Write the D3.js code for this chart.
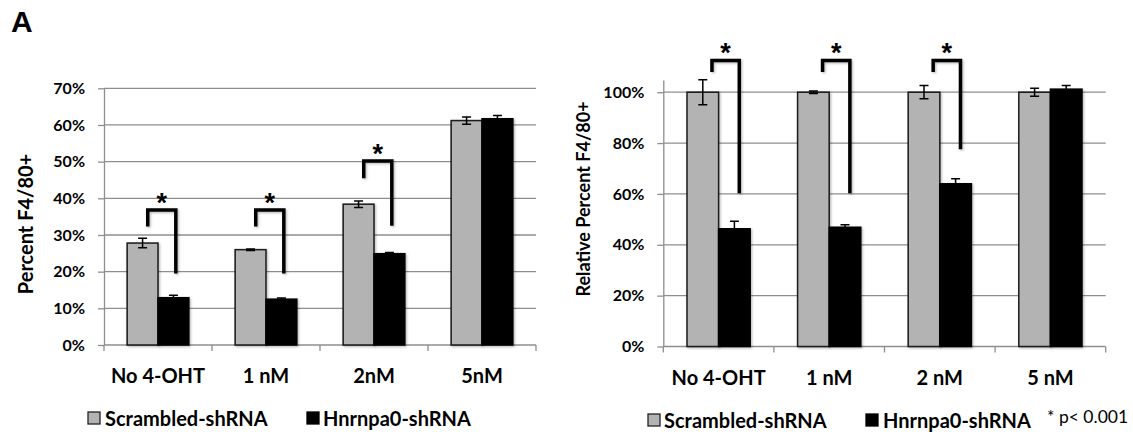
<!DOCTYPE html>
<html><head><meta charset="utf-8">
<script src="https://cdn.jsdelivr.net/npm/d3@7"></script>
<style>body{margin:0;background:#fff} svg{display:block}</style>
</head><body><svg id="c" width="1133" height="434"></svg>
<script>
// ---------- data ----------
const seriesNames = ["Scrambled-shRNA", "Hnrnpa0-shRNA"];

const leftCategories = ["No 4-OHT", "1 nM", "2nM", "5nM"];
const leftScrambled    = [0.278, 0.260, 0.384, 0.612];
const leftScrambledErr = [0.013, 0.002, 0.009, 0.010];
const leftHnrnpa0      = [0.129, 0.125, 0.249, 0.617];
const leftHnrnpa0Err   = [0.007, 0.003, 0.003, 0.009];
const leftTicks = [0, 0.1, 0.2, 0.3, 0.4, 0.5, 0.6, 0.7];
const leftBracketCats   = ["No 4-OHT", "1 nM", "2nM"];
const leftBracketTop    = [0.368, 0.368, 0.502];
const leftBracketLeft   = [0.323, 0.323, 0.455];
const leftBracketRight  = [0.195, 0.195, 0.325];

const rightCategories = ["No 4-OHT", "1 nM", "2 nM", "5 nM"];
const rightScrambled    = [1.000, 1.000, 1.000, 1.000];
const rightScrambledErr = [0.049, 0.005, 0.026, 0.016];
const rightHnrnpa0      = [0.463, 0.469, 0.640, 1.012];
const rightHnrnpa0Err   = [0.030, 0.010, 0.020, 0.014];
const rightTicks = [0, 0.2, 0.4, 0.6, 0.8, 1.0];
const rightBracketCats  = ["No 4-OHT", "1 nM", "2 nM"];
const rightBracketTop   = [1.125, 1.125, 1.125];
const rightBracketLeft  = [1.079, 1.079, 1.079];
const rightBracketRight = [0.603, 0.603, 0.776];

const pValueNote = "* p< 0.001";
const panelLabel = "A";

// ---------- drawing ----------
const svg = d3.select("#c");
const FONT = "Lato, 'Open Sans', sans-serif";
const STARFONT = "'Liberation Sans', Arial, sans-serif";
const GRID = "#8e8e8e";
const GRAY = "#b3b3b3";

const defs = svg.append("defs");
const f = defs.append("filter").attr("id", "sh").attr("x", "-20%").attr("y", "-20%").attr("width", "150%").attr("height", "150%");
f.append("feDropShadow").attr("dx", 1.2).attr("dy", 1.2).attr("stdDeviation", 0.9)
  .attr("flood-color", "#000").attr("flood-opacity", 0.28);

function drawPanel(cfg) {
  const g = svg.append("g");
  const x = d3.scaleBand().domain(cfg.categories).range([cfg.left, cfg.right]).paddingInner(0).paddingOuter(0);
  const bw = x.bandwidth();
  const xs = d3.scaleBand().domain(seriesNames).range([0, bw]).paddingInner(0).paddingOuter(0.75);
  const y = d3.scaleLinear().domain([0, cfg.yMax]).range([cfg.bottom, cfg.top]);

  // gridlines
  g.append("g").selectAll("line").data(cfg.ticks.filter(d => d > 0)).join("line")
    .attr("x1", cfg.left).attr("x2", cfg.right)
    .attr("y1", d => y(d)).attr("y2", d => y(d))
    .attr("stroke", GRID).attr("stroke-width", 1.3);

  // y axis
  const ya = g.append("g").attr("transform", `translate(${cfg.left},0)`)
    .call(d3.axisLeft(y).tickValues(cfg.ticks).tickSize(6).tickSizeOuter(0).tickPadding(13)
      .tickFormat(d3.format(".0%")));
  ya.select(".domain").attr("stroke", GRID).attr("stroke-width", 1.3);
  ya.selectAll(".tick line").attr("stroke", GRID).attr("stroke-width", 1.3);
  ya.selectAll(".tick text").attr("font-family", FONT).attr("font-weight", 700)
    .attr("font-size", 16).attr("fill", "#000");

  // x axis line + boundary ticks
  g.append("line").attr("x1", cfg.left).attr("x2", cfg.right)
    .attr("y1", y(0)).attr("y2", y(0)).attr("stroke", GRID).attr("stroke-width", 1.3);
  const bounds = [cfg.left].concat(cfg.categories.map(c => x(c) + bw));
  g.append("g").selectAll("line").data(bounds).join("line")
    .attr("x1", d => d).attr("x2", d => d)
    .attr("y1", y(0)).attr("y2", y(0) + 6)
    .attr("stroke", GRID).attr("stroke-width", 1.3);

  // x labels
  const xa = g.append("g").attr("transform", `translate(0,${y(0)})`)
    .call(d3.axisBottom(x).tickSize(0).tickPadding(24));
  xa.select(".domain").remove();
  xa.selectAll(".tick text").attr("font-family", FONT).attr("font-weight", 700)
    .attr("font-size", 20).attr("fill", "#000");

  // bars
  const rows = cfg.categories.map((c, i) => [
    { c, s: seriesNames[0], v: cfg.s0[i], e: cfg.e0[i] },
    { c, s: seriesNames[1], v: cfg.s1[i], e: cfg.e1[i] }
  ]).flat();
  g.append("g").selectAll("rect").data(rows).join("rect")
    .attr("x", d => x(d.c) + xs(d.s))
    .attr("y", d => y(d.v))
    .attr("width", xs.bandwidth())
    .attr("height", d => y(0) - y(d.v))
    .attr("fill", d => d.s === seriesNames[0] ? GRAY : "#000")
    .attr("stroke", d => d.s === seriesNames[0] ? "#1a1a1a" : "#000")
    .attr("stroke-width", 1.5)
    .attr("filter", "url(#sh)");

  // error bars
  const eb = g.append("g").attr("stroke", "#000").attr("stroke-width", 1.5).attr("fill", "none");
  rows.forEach(d => {
    const cx = x(d.c) + xs(d.s) + xs.bandwidth() / 2;
    const hi = y(d.v + d.e), lo = y(d.v - d.e);
    eb.append("path").attr("d",
      `M${cx},${hi}V${lo}M${cx - 4.5},${hi}H${cx + 4.5}M${cx - 4.5},${lo}H${cx + 4.5}`);
  });

  // significance brackets
  const bg = g.append("g");
  cfg.bCats.forEach((c, i) => {
    const cx = x(c) + bw / 2;
    const lx = cx + cfg.bLeftOff * bw, rx = cx + cfg.bRightOff * bw;
    const yt = y(cfg.bTop[i]);
    bg.append("path")
      .attr("d", `M${lx},${y(cfg.bLeft[i])}V${yt}H${rx}V${y(cfg.bRight[i])}`)
      .attr("fill", "none").attr("stroke", "#000").attr("stroke-width", 3.5)
      .attr("stroke-linejoin", "miter").attr("filter", "url(#sh)");
    bg.append("text").attr("x", (lx + rx) / 2).attr("y", yt - 13.5 + 0.575 * 27)
      .attr("text-anchor", "middle").attr("font-family", STARFONT).attr("font-weight", 700)
      .attr("font-size", 27).text("*");
  });

  // y title
  g.append("text")
    .attr("transform", `translate(${cfg.titleX},${cfg.titleY}) rotate(-90)`)
    .attr("text-anchor", "middle").attr("font-family", FONT).attr("font-weight", 700)
    .attr("font-size", cfg.titleSize).text(cfg.title);

  // legend
  const lg = g.append("g");
  cfg.legend.forEach((L, i) => {
    lg.append("rect").attr("x", L.sx).attr("y", cfg.legY - 13).attr("width", 12).attr("height", 12)
      .attr("fill", i === 0 ? GRAY : "#000").attr("stroke", i === 0 ? "#222" : "#000").attr("stroke-width", 1.3);
    lg.append("text").attr("x", L.tx).attr("y", cfg.legY + 1)
      .attr("font-family", FONT).attr("font-weight", 700).attr("font-size", 20).text(seriesNames[i]);
  });
}

drawPanel({
  categories: leftCategories, s0: leftScrambled, e0: leftScrambledErr, s1: leftHnrnpa0, e1: leftHnrnpa0Err,
  ticks: leftTicks, yMax: 0.7, left: 104, right: 536, top: 88.3, bottom: 345,
  bCats: leftBracketCats, bTop: leftBracketTop, bLeft: leftBracketLeft, bRight: leftBracketRight,
  bLeftOff: -0.095, bRightOff: 0.165,
  title: "Percent F4/80+", titleX: 33, titleY: 224, titleSize: 20,
  legY: 425, legend: [{ sx: 88, tx: 105 }, { sx: 307, tx: 323 }]
});

drawPanel({
  categories: rightCategories, s0: rightScrambled, e0: rightScrambledErr, s1: rightHnrnpa0, e1: rightHnrnpa0Err,
  ticks: rightTicks, yMax: 1.048, left: 663.3, right: 1105.7, top: 80, bottom: 346.5,
  bCats: rightBracketCats, bTop: rightBracketTop, bLeft: rightBracketLeft, bRight: rightBracketRight,
  bLeftOff: -0.06, bRightOff: 0.187,
  title: "Relative Percent F4/80+", titleX: 590, titleY: 199, titleSize: 18,
  legY: 427, legend: [{ sx: 648, tx: 664 }, { sx: 866, tx: 883 }]
});

svg.append("text").attr("x", 1047).attr("y", 423).attr("font-family", FONT)
  .attr("font-size", 17.5).text(pValueNote);

svg.append("text").attr("x", 11).attr("y", 32).attr("font-family", "'Liberation Sans', Arial, sans-serif")
  .attr("font-weight", 700).attr("font-size", 30).text(panelLabel);
</script></body></html>
